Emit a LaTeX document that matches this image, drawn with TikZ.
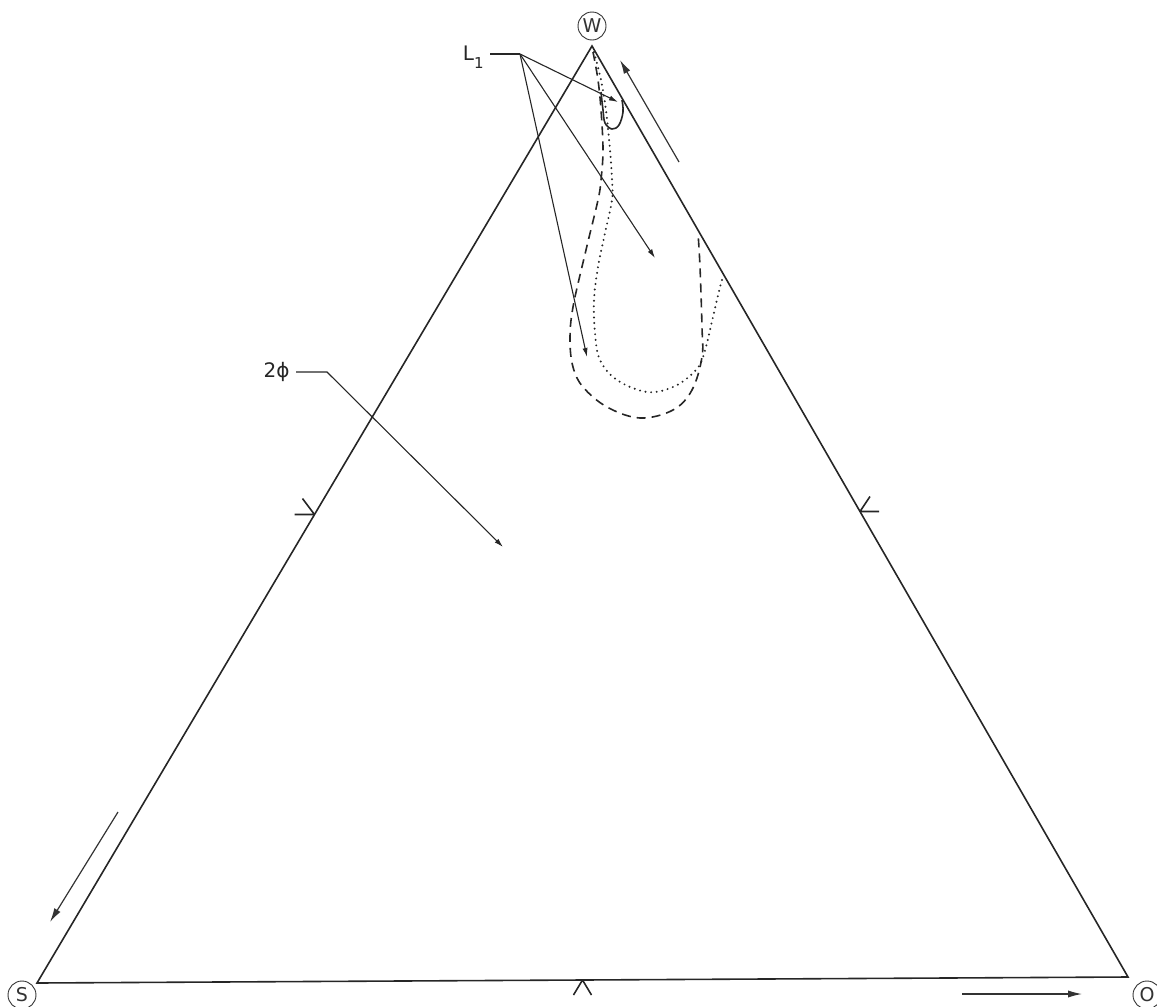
\documentclass[tikz,border=0pt]{standalone}
\usepackage{fontspec}
\setmainfont{DejaVu Sans}
\usetikzlibrary{arrows.meta,calc}

\tikzset{
    lato/.style={line width=0.8pt, black!85},
    freccia/.style={line width=0.55pt, black!85, -{Latex[length=4.5pt,width=2.6pt]}},
    guida/.style={line width=0.55pt, black!85},
    verso/.style={line width=0.6pt, black!80, -{Latex[length=7pt,width=3.6pt]}},
    cerchio/.style={circle, draw, line width=0.45pt, black!80, inner sep=0pt,
        minimum size=14pt, font=\fontsize{9.5}{9.5}\selectfont},
    etichetta/.style={inner sep=0pt, black!85, font=\fontsize{10}{12}\selectfont},
    tratteggio/.style={line width=0.8pt, black!85, dash pattern=on 4.5pt off 3pt},
    puntini/.style={line width=1.1pt, black!85, line cap=round, dash pattern=on 0pt off 2.8pt}
}

\begin{document}
\begin{tikzpicture}[x=0.5pt,y=-0.5pt]
    \useasboundingbox (0,0) rectangle (1157,1007);

    % Vertici
    \coordinate (vW) at (592,46);
    \coordinate (vS) at (37,983);
    \coordinate (vO) at (1128,977);
    \node[cerchio] (w) at (592,26) {W};
    \node[cerchio] (s) at (22,995) {S};
    \node[cerchio] (o) at (1147,995) {O};

    % Triangolo
    \draw[lato] (vS) -- (vW) -- (vO) -- cycle;

    % Tacche a meta' dei lati
    \coordinate (mSW) at ($(vS)!0.5!(vW)$);
    \coordinate (mWO) at ($(vW)!0.5!(vO)$);
    \coordinate (mSO) at ($(vS)!0.5!(vO)$);
    \draw[lato] (mSW) -- ++(-20,0) (mSW) -- ++(-12,-16);
    \draw[lato] (mWO) -- ++(19,0) (mWO) -- ++(10,-15);
    \draw[lato] (mSO) -- ++(-9,15) (mSO) -- ++(9,15);

    % Curve
    \draw[tratteggio] plot[smooth, tension=0.6] coordinates {
        (593,52) (598,80) (601,110) (603,150) (601,180) (598,200) (586,250)
        (573,307) (570,340) (573,367) (583,387) (607,407) (640,418) (673,410)
        (692,390) (702,357) (702,327) (700,267) (698,233)};
    \draw[puntini] plot[smooth, tension=0.6] coordinates {
        (594,52) (601,80) (606,110) (610,150) (612,180) (612,200) (605,233)
        (598,267) (594,300) (595,333) (600,360) (617,380) (647,392) (673,387)
        (693,373) (703,357) (713,317) (720,287) (723,277)};
    \draw[lato] plot[smooth, tension=0.6] coordinates {
        (601,92) (603,110) (605,123) (612,129) (619,125) (623,112) (622,100)};

    % Etichette
    \node[etichetta, anchor=east] (l1) at (484,57) {L\raisebox{-4pt}{\fontsize{7.5}{8}\selectfont 1}};
    \coordinate (hub) at (520,54);
    \coordinate (t1) at (587,357);
    \coordinate (t2) at (655,258);
    \coordinate (t3) at (618,102);
    \draw[guida] ([xshift=3pt,yshift=1.5pt]l1.east) -- (hub);
    \draw[freccia] (hub) -- (t1);
    \draw[freccia] (hub) -- (t2);
    \draw[freccia] (hub) -- (t3);

    \node[etichetta, anchor=east] (fi) at (290,372) {2ϕ};
    \coordinate (gomito) at (327,372);
    \coordinate (t4) at (503,547);
    \draw[freccia] ([xshift=3pt]fi.east) -- (gomito) -- (t4);

    % Frecce esterne
    \coordinate (a1) at (118,812);
    \coordinate (b1) at (50,922);
    \coordinate (a2) at (679,162);
    \coordinate (b2) at (620,60);
    \coordinate (a3) at (962,994);
    \coordinate (b3) at (1082,994);
    \draw[verso] (a1) -- (b1);
    \draw[verso] (a2) -- (b2);
    \draw[verso] (a3) -- (b3);
\end{tikzpicture}
\end{document}
